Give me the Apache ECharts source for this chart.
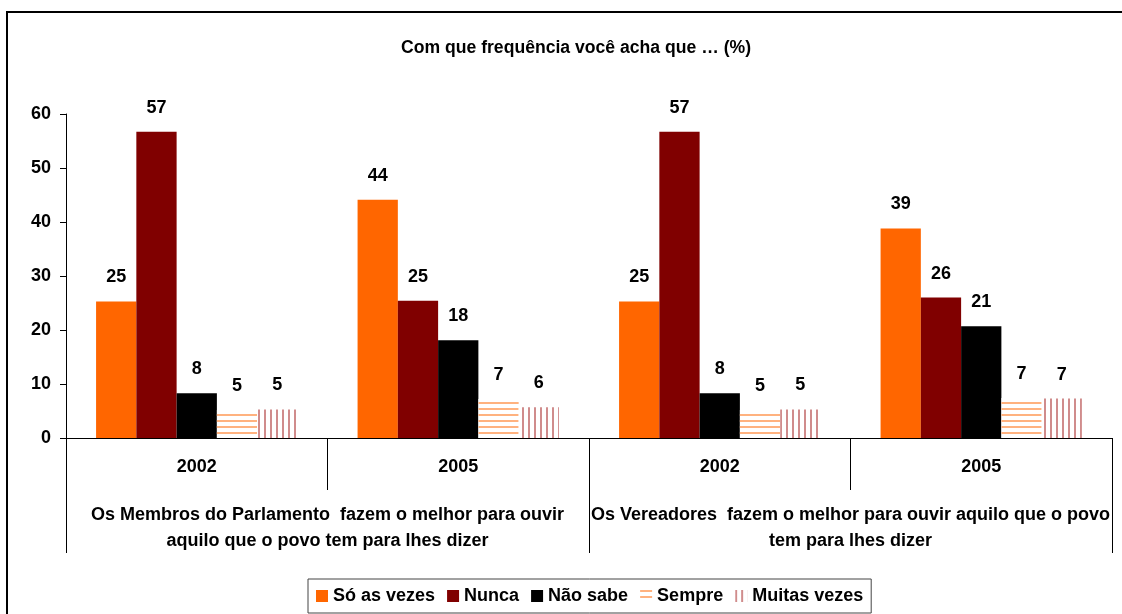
<!DOCTYPE html>
<html>
<head>
<meta charset="utf-8">
<script src="https://cdn.jsdelivr.net/npm/echarts@6/dist/echarts.min.js"></script>
<style>html,body{margin:0;padding:0;background:#fff}#c{width:1122px;height:614px}</style>
</head>
<body>
<div id="c"></div>
<script>
var years = ['2002', '2005', '2002', '2005'];
var groups = ['Os Membros do Parlamento  fazem o melhor para ouvir\naquilo que o povo tem para lhes dizer',
              'Os Vereadores  fazem o melhor para ouvir aquilo que o povo\ntem para lhes dizer'];
var seriesNames = ['Só as vezes', 'Nunca', 'Não sabe', 'Sempre', 'Muitas vezes'];
var soAsVezes = [25.3, 44.1, 25.3, 38.8];
var nunca = [56.7, 25.4, 56.7, 26.0];
var naoSabe = [8.3, 18.1, 8.3, 20.7];
var sempre = [5.2, 7.2, 5.2, 7.4];
var muitasVezes = [5.3, 5.7, 5.3, 7.3];
var yTicks = [0, 10, 20, 30, 40, 50, 60];

var FONT = '"Liberation Sans", Arial, sans-serif';
var txt = {fontFamily: FONT, fontWeight: 'bold', color: '#000'};

function bar(name, data, color, decal) {
  var s = {
    name: name, type: 'bar', data: data, xAxisIndex: 0,
    barGap: '0%', barCategoryGap: '23%',
    itemStyle: {color: color},
    label: {show: true, position: 'top', distance: 15,
      fontFamily: FONT, fontWeight: 'bold', fontSize: 18, color: '#000',
      formatter: function (p) { return Math.round(p.value); }}
  };
  if (decal) s.itemStyle.decal = decal;
  return s;
}

var chart = echarts.init(document.getElementById('c'), null, {renderer: 'canvas'});
chart.setOption({
  animation: false,
  backgroundColor: '#fff',
  title: {text: 'Com que frequência você acha que … (%)', left: 571, top: 34, textAlign: 'center',
    textStyle: Object.assign({fontSize: 17.6}, txt)},
  graphic: [{type: 'rect', shape: {x: 7, y: 12, width: 1300, height: 800},
    style: {fill: 'none', stroke: '#000', lineWidth: 2}, silent: true}],
  legend: {left: 308, top: 579, padding: [8, 8, 8, 8], itemWidth: 12, itemHeight: 12, itemGap: 12,
    borderColor: '#444', borderWidth: 1, icon: 'rect',
    textStyle: Object.assign({fontSize: 18}, txt), data: seriesNames},
  grid: {left: 66, right: 10, top: 114, bottom: 176, containLabel: false},
  xAxis: [
    {type: 'category', data: years, position: 'bottom',
     axisLine: {show: true, lineStyle: {color: '#000', width: 1}},
     axisTick: {show: true, interval: 0, length: 52, lineStyle: {color: '#000'}},
     axisLabel: Object.assign({fontSize: 18, margin: 20, interval: 0}, txt)},
    {type: 'category', data: groups, position: 'bottom',
     axisLine: {show: false},
     axisTick: {show: true, interval: 0, length: 115, lineStyle: {color: '#000'}},
     axisLabel: Object.assign({fontSize: 18, margin: 64, interval: 0, lineHeight: 26}, txt)}
  ],
  yAxis: {type: 'value', min: yTicks[0], max: yTicks[yTicks.length - 1], interval: 10,
    axisLine: {show: true, lineStyle: {color: '#000'}},
    axisTick: {show: true, length: 6, lineStyle: {color: '#000'}},
    splitLine: {show: false},
    axisLabel: Object.assign({fontSize: 18, margin: 15}, txt)},
  series: [
    bar(seriesNames[0], soAsVezes, '#FF6600'),
    bar(seriesNames[1], nunca, '#800000'),
    bar(seriesNames[2], naoSabe, '#000000'),
    bar(seriesNames[3], sempre, '#FFFFFF', {symbol: 'rect', symbolSize: 1, color: '#FFB27F',
      dashArrayX: [1, 0], dashArrayY: [2, 4], rotation: 0}),
    bar(seriesNames[4], muitasVezes, '#FFFFFF', {symbol: 'rect', symbolSize: 1, color: '#D08C8C',
      dashArrayX: [2, 4], dashArrayY: [1, 0], rotation: 0})
  ]
});
</script>
</body>
</html>
